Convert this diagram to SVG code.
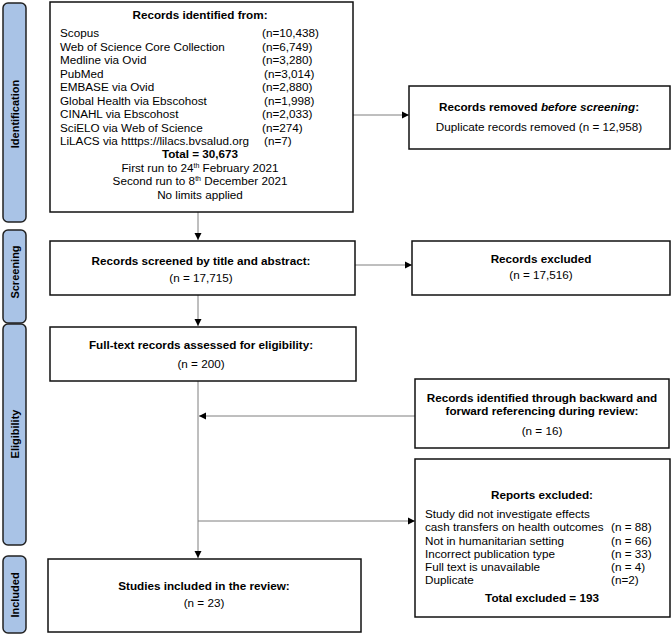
<svg xmlns="http://www.w3.org/2000/svg" width="672" height="636" viewBox="0 0 672 636">
<style>
text{font-family:"Liberation Sans",Arial,sans-serif;font-size:11.7px;fill:#000}
.b{font-weight:bold}
.c{text-anchor:middle}
.box{fill:#fff;stroke:#111;stroke-width:1.5}
.side{fill:#a9c3e6;stroke:#222;stroke-width:1.5}
.side-t{font-weight:bold;font-size:11px;text-anchor:middle}
.ln{stroke:#7f7f7f;stroke-width:1;fill:none}
</style>
<defs>
<marker id="ah" markerWidth="8" markerHeight="8" refX="7" refY="4" orient="auto" markerUnits="userSpaceOnUse">
<path d="M0,0.5 L7,4 L0,7.5 Z" fill="#000"/>
</marker>
</defs>
<rect width="672" height="636" fill="#fff"/>
<g id="phase-identification"><rect class="side" x="3" y="3" width="23" height="219" rx="5"/><text class="side-t" transform="translate(19,114) rotate(-90)">Identification</text></g>
<g id="phase-screening"><rect class="side" x="3" y="230" width="23" height="93" rx="5"/><text class="side-t" transform="translate(19,272) rotate(-90)">Screening</text></g>
<g id="phase-eligibility"><rect class="side" x="3" y="324" width="23" height="221" rx="5"/><text class="side-t" transform="translate(19,434) rotate(-90)">Eligibility</text></g>
<g id="phase-included"><rect class="side" x="3" y="556" width="23" height="77" rx="5"/><text class="side-t" transform="translate(19,595) rotate(-90)">Included</text></g>

<g id="connectors">
<line class="ln" x1="198" y1="212" x2="198" y2="240" marker-end="url(#ah)"/>
<line class="ln" x1="353" y1="115" x2="409" y2="115" marker-end="url(#ah)"/>
<line class="ln" x1="198" y1="295" x2="198" y2="326" marker-end="url(#ah)"/>
<line class="ln" x1="355" y1="265" x2="412" y2="265" marker-end="url(#ah)"/>
<line class="ln" x1="198" y1="381" x2="198" y2="558" marker-end="url(#ah)"/>
<line class="ln" x1="415" y1="416" x2="199" y2="416" marker-end="url(#ah)"/>
<line class="ln" x1="198" y1="521" x2="415" y2="521" marker-end="url(#ah)"/>
</g>

<g id="node-identified">
<rect class="box" x="50" y="2" width="303" height="210"/>
<text class="b c" x="200" y="19">Records identified from:</text>
<text x="60" y="37">Scopus</text><text x="262" y="37">(n=10,438)</text>
<text x="60" y="50.5">Web of Science Core Collection</text><text x="262" y="50.5">(n=6,749)</text>
<text x="60" y="64">Medline via Ovid</text><text x="262" y="64">(n=3,280)</text>
<text x="60" y="77.5">PubMed</text><text x="264" y="77.5">(n=3,014)</text>
<text x="60" y="91">EMBASE via Ovid</text><text x="262" y="91">(n=2,880)</text>
<text x="60" y="104.5">Global Health via Ebscohost</text><text x="264" y="104.5">(n=1,998)</text>
<text x="60" y="118">CINAHL via Ebscohost</text><text x="262" y="118">(n=2,033)</text>
<text x="60" y="131.5">SciELO via Web of Science</text><text x="262" y="131.5">(n=274)</text>
<text x="60" y="145">LiLACS via htttps://lilacs.bvsalud.org</text><text x="264" y="145">(n=7)</text>
<text class="b c" x="200" y="158">Total = 30,673</text>
<text class="c" x="200" y="171.5">First run to 24<tspan font-size="7" dy="-4">th</tspan><tspan dy="4"> February 2021</tspan></text>
<text class="c" x="200" y="185">Second run to 8<tspan font-size="7" dy="-4">th</tspan><tspan dy="4"> December 2021</tspan></text>
<text class="c" x="200" y="198.5">No limits applied</text>
</g>

<g id="node-removed">
<rect class="box" x="409" y="86" width="261" height="63"/>
<text class="b c" x="539" y="111">Records removed <tspan font-style="italic">before screening</tspan>:</text>
<text class="c" x="539" y="131">Duplicate records removed (n = 12,958)</text>
</g>

<g id="node-screened">
<rect class="box" x="50" y="241" width="305" height="54"/>
<text class="b c" x="201" y="265">Records screened by title and abstract:</text>
<text class="c" x="201" y="282">(n = 17,715)</text>
</g>

<g id="node-excluded">
<rect class="box" x="412" y="241" width="258" height="54"/>
<text class="b c" x="541" y="263">Records excluded</text>
<text class="c" x="541" y="279">(n = 17,516)</text>
</g>

<g id="node-fulltext">
<rect class="box" x="50" y="327" width="306" height="54"/>
<text class="b c" x="201" y="349">Full-text records assessed for eligibility:</text>
<text class="c" x="201" y="368">(n = 200)</text>
</g>

<g id="node-backward">
<rect class="box" x="415" y="379" width="254" height="69"/>
<text class="b c" x="542" y="402">Records identified through backward and</text>
<text class="b c" x="542" y="415">forward referencing during review:</text>
<text class="c" x="542" y="435">(n = 16)</text>
</g>

<g id="node-reports">
<rect class="box" x="415" y="459" width="255" height="158"/>
<text class="b c" x="542" y="499">Reports excluded:</text>
<text x="425" y="518">Study did not investigate effects</text>
<text x="425" y="531">cash transfers on health outcomes</text><text x="611" y="531">(n = 88)</text>
<text x="425" y="545">Not in humanitarian setting</text><text x="611" y="545">(n = 66)</text>
<text x="425" y="558">Incorrect publication type</text><text x="611" y="558">(n = 33)</text>
<text x="425" y="571">Full text is unavailable</text><text x="611" y="571">(n = 4)</text>
<text x="425" y="584">Duplicate</text><text x="611" y="584">(n=2)</text>
<text class="b c" x="542" y="602">Total excluded = 193</text>
</g>

<g id="node-included">
<rect class="box" x="48" y="559" width="313" height="73"/>
<text class="b c" x="204" y="590">Studies included in the review:</text>
<text class="c" x="204" y="607">(n = 23)</text>
</g>
</svg>
